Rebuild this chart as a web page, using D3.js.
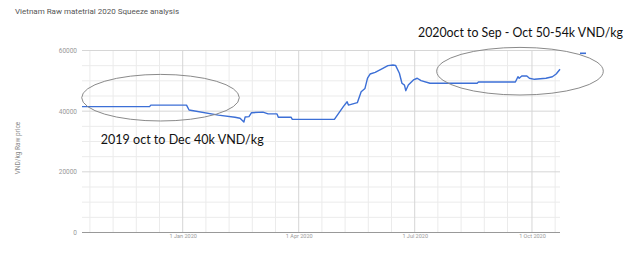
<!DOCTYPE html>
<html><head><meta charset="utf-8">
<script src="https://cdn.jsdelivr.net/npm/d3@7/dist/d3.min.js"></script>
<style>body{margin:0;background:#fff}svg{display:block}</style>
</head><body>
<script>
const title = "Vietnam Raw matetrial 2020 Squeeze analysis";
const yTitle = "VND/kg Raw price";
const dates = ["2019-10-14","2019-12-06","2019-12-07","2020-01-04","2020-01-06","2020-01-29","2020-02-11","2020-02-15","2020-02-18","2020-02-19","2020-02-22","2020-02-24","2020-03-04","2020-03-08","2020-03-15","2020-03-16","2020-03-26","2020-03-27","2020-04-29","2020-05-06","2020-05-09","2020-05-10","2020-05-17","2020-05-20","2020-05-23","2020-05-25","2020-05-27","2020-05-31","2020-06-06","2020-06-10","2020-06-14","2020-06-16","2020-06-19","2020-06-21","2020-06-23","2020-06-24","2020-06-26","2020-06-30","2020-07-03","2020-07-06","2020-07-13","2020-08-19","2020-08-20","2020-09-18","2020-09-20","2020-09-21","2020-09-23","2020-09-27","2020-09-29","2020-10-03","2020-10-12","2020-10-17","2020-10-20","2020-10-23"];
const prices = [41500,41500,42000,42000,40400,38700,38000,37650,36400,38100,38200,39500,39700,39100,39100,38000,38000,37300,37300,41500,43100,42000,42800,46400,47500,50900,52250,52800,54100,55000,55200,55100,52500,49200,48600,46750,48600,50300,50850,50050,49200,49200,49600,49600,51350,50850,51600,51600,50850,50500,50850,51350,52250,53800];
const yTicks = [0,20000,40000,60000];
const xTickDates = ["2020-01-01","2020-04-01","2020-07-01","2020-10-01"];
const xTickLabels = ["1 Jan 2020","1 Apr 2020","1 Jul 2020","1 Oct 2020"];
const notes = ["2019 oct to Dec 40k VND/kg","2020oct to Sep - Oct 50-54k VND/kg"];

const W=636,H=260;
const parse=d3.utcParse("%Y-%m-%d");
const data=dates.map((d,i)=>({d:parse(d),v:prices[i]}));
const svg=d3.select("body").append("svg").attr("width",W).attr("height",H);
const L=82,R=560,T=50.5,B=232.5;
const x=d3.scaleUtc().domain(d3.extent(data,d=>d.d)).range([L,R]);
const y=d3.scaleLinear().domain([0,60000]).range([B,T]);

// minor horizontal gridlines
const minorY=d3.range(5000,60000,5000).filter(v=>!yTicks.includes(v));
svg.append("g").selectAll("line").data(minorY).join("line")
  .attr("x1",L).attr("x2",R).attr("y1",d=>y(d)).attr("y2",d=>y(d))
  .attr("stroke","#ebebeb").attr("stroke-width",1);
// minor vertical gridlines: 4 evenly spaced between majors
const majX=xTickDates.map(d=>x(parse(d)));
const step=(majX[1]-majX[0])/5;
const minorX=[];
for(let p=majX[0]-step;p>L;p-=step)minorX.push(p);
for(let i=0;i<majX.length;i++){for(let k=1;k<5;k++){const p=majX[i]+k*step;if(p<R)minorX.push(p);}}
svg.append("g").selectAll("line").data(minorX).join("line")
  .attr("x1",d=>d).attr("x2",d=>d).attr("y1",T).attr("y2",B)
  .attr("stroke","#ebebeb").attr("stroke-width",1);
// major gridlines
svg.append("g").selectAll("line").data(yTicks.filter(v=>v>0)).join("line")
  .attr("x1",L).attr("x2",R).attr("y1",d=>y(d)).attr("y2",d=>y(d))
  .attr("stroke","#d6d6d6").attr("stroke-width",1);
svg.append("g").selectAll("line").data(majX).join("line")
  .attr("x1",d=>d).attr("x2",d=>d).attr("y1",T).attr("y2",B)
  .attr("stroke","#d6d6d6").attr("stroke-width",1);
// baseline
svg.append("line").attr("x1",L).attr("x2",R).attr("y1",y(0)).attr("y2",y(0))
  .attr("stroke","#999").attr("stroke-width",1);

// axes labels
const yAxis=d3.axisLeft(y).tickValues(yTicks).tickSize(0).tickPadding(5).tickFormat(d3.format("d"));
const ga=svg.append("g").attr("transform",`translate(${L},0)`).call(yAxis);
ga.select(".domain").remove();
ga.selectAll("text").attr("font-family","Roboto, Arial, sans-serif").attr("font-size",6.5).attr("fill","#999");
const xAxis=d3.axisBottom(x).tickValues(xTickDates.map(parse)).tickSize(0).tickPadding(2)
  .tickFormat((d,i)=>xTickLabels[i]);
const gx=svg.append("g").attr("transform",`translate(0,${B})`).call(xAxis);
gx.select(".domain").remove();
gx.selectAll("text").attr("font-family","Roboto, Arial, sans-serif").attr("font-size",5.5).attr("fill","#999");

// line
const line=d3.line().x(d=>x(d.d)).y(d=>y(d.v));
svg.append("path").datum(data).attr("d",line).attr("fill","none")
  .attr("stroke","#3c6fd6").attr("stroke-width",1.4).attr("stroke-linejoin","round");
// legend marker
svg.append("line").attr("x1",580).attr("x2",586).attr("y1",53.3).attr("y2",53.3)
  .attr("stroke","#3c6fd6").attr("stroke-width",1.6);

// title
svg.append("text").attr("x",15).attr("y",14).text(title)
  .attr("font-family","Roboto, Arial, sans-serif").attr("font-size",8).attr("fill","#555");
svg.append("text").attr("transform","translate(20,148) rotate(-90)").attr("text-anchor","middle")
  .text(yTitle).attr("font-family","Roboto, Arial, sans-serif").attr("font-size",6.5).attr("fill","#888");

// ellipses
svg.append("ellipse").attr("cx",160.5).attr("cy",97.7).attr("rx",78.8).attr("ry",23.3)
  .attr("fill","none").attr("stroke","#8a8a8a").attr("stroke-width",1);
svg.append("ellipse").attr("cx",520).attr("cy",71.2).attr("rx",83.3).attr("ry",23.8)
  .attr("fill","none").attr("stroke","#8a8a8a").attr("stroke-width",1);

// annotations
svg.append("text").attr("x",100.7).attr("y",144).text(notes[0])
  .attr("font-family","Lato, 'Open Sans', sans-serif").attr("font-size",14).attr("fill","#111")
  .attr("textLength",163).attr("lengthAdjust","spacingAndGlyphs");
svg.append("text").attr("x",418).attr("y",37).text(notes[1])
  .attr("font-family","Lato, 'Open Sans', sans-serif").attr("font-size",13).attr("fill","#111")
  .attr("textLength",205).attr("lengthAdjust","spacingAndGlyphs");
</script>
</body></html>
